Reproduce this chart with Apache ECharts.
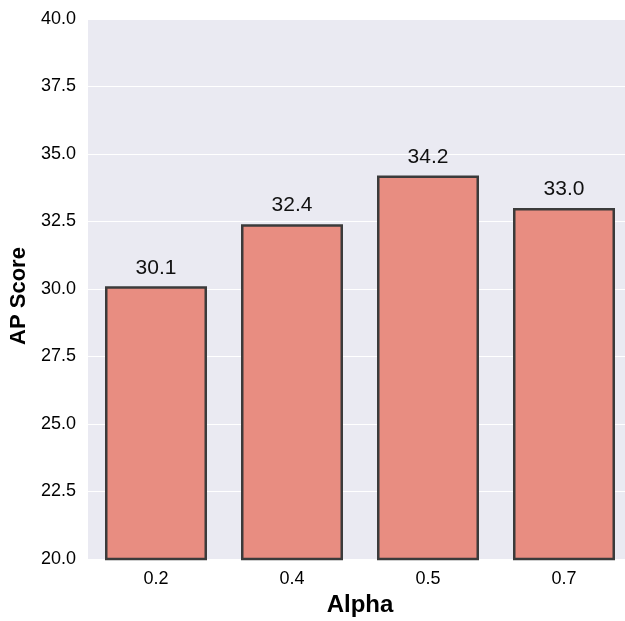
<!DOCTYPE html>
<html><head><meta charset="utf-8">
<script src="https://cdn.jsdelivr.net/npm/echarts@6/dist/echarts.min.js"></script>
<style>html,body{margin:0;padding:0;background:#fff}#c{width:625px;height:621px}</style>
</head><body><div id="c"></div>
<script>
const categories = ['0.2', '0.4', '0.5', '0.7'];
const apScores = [30.1, 32.4, 34.2, 33.0];
const yTicks = [20, 22.5, 25, 27.5, 30, 32.5, 35, 37.5, 40];

const chart = echarts.init(document.getElementById('c'));
chart.setOption({
  animation: false,
  backgroundColor: '#ffffff',
  grid: { left: 88, width: 544, top: 19, bottom: 62, show: true, backgroundColor: '#EAEAF2', borderWidth: 0,
    outerBoundsMode: 'none', containLabel: false },
  xAxis: {
    type: 'category', data: categories,
    name: 'Alpha', nameLocation: 'middle', nameGap: 33,
    nameTextStyle: { fontFamily: 'Liberation Sans, Arial', fontWeight: 'bold', fontSize: 24, color: '#000' },
    axisLine: { show: false }, axisTick: { show: false },
    axisLabel: { fontFamily: 'Liberation Sans, Arial', fontSize: 18, color: '#000', margin: 11 },
    splitLine: { show: false }
  },
  yAxis: {
    type: 'value', min: yTicks[0], max: yTicks[yTicks.length - 1], interval: 2.5,
    name: 'AP Score', nameLocation: 'middle', nameGap: 57, nameRotate: 90,
    nameTextStyle: { fontFamily: 'Liberation Sans, Arial', fontWeight: 'bold', fontSize: 22, color: '#000', padding: [0, 14, 0, 0] },
    axisLine: { show: false }, axisTick: { show: false },
    axisLabel: { fontFamily: 'Liberation Sans, Arial', fontSize: 18, color: '#000', margin: 12,
      formatter: v => v.toFixed(1) },
    splitLine: { show: true, lineStyle: { color: '#ffffff', width: 1.2 } }
  },
  series: [{
    type: 'bar', data: apScores, barWidth: '75%',
    itemStyle: { color: '#E88D81', borderColor: '#3b3b3b', borderWidth: 2.5 },
    label: { show: true, position: 'top', distance: 8, fontFamily: 'Liberation Sans, Arial', fontSize: 21, color: '#111',
      formatter: p => p.value.toFixed(1) }
  }]
});
</script></body></html>
